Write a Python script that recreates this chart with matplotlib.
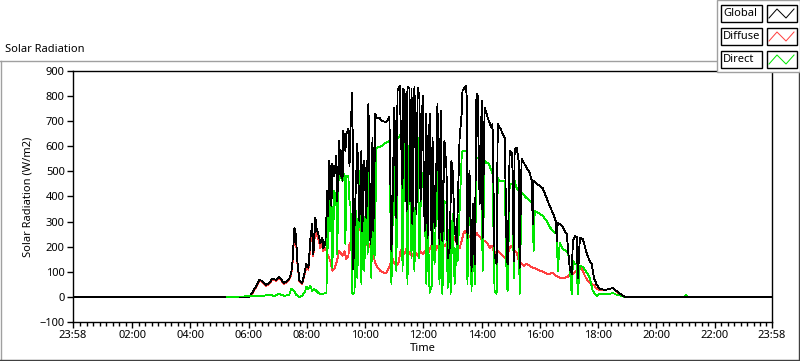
import matplotlib
matplotlib.use('Agg')
import matplotlib.pyplot as plt
import numpy as np
from matplotlib.lines import Line2D
from matplotlib.patches import Rectangle

plt.rcParams['font.family'] = ['Noto Sans', 'DejaVu Sans']

# ---------------- data (hours of day, W/m2) ----------------
global_t = [-0.033, 5.26, 6.02, 6.12, 6.22, 6.36, 6.46, 6.60, 6.71, 6.81, 6.95, 7.05, 7.15, 7.22, 7.32,
            7.39, 7.46, 7.50, 7.57, 7.60, 7.63, 7.67, 7.74, 7.84, 7.91, 7.98, 8.05, 8.12, 8.18, 8.22,
            8.29, 8.32, 8.39, 8.46, 8.53, 8.56, 8.63, 8.67, 8.70, 8.73, 8.77, 8.84, 8.87, 8.94, 9.01,
            9.04, 9.11, 9.15, 9.18, 9.22, 9.25, 9.32, 9.35, 9.42, 9.46, 9.49, 9.56, 9.59, 9.66, 9.73,
            9.80, 9.87, 9.90, 9.97, 10.04, 10.11, 10.18, 10.25, 10.28, 10.35, 10.39, 10.49, 10.56, 10.70,
            10.76, 10.83, 10.90, 10.94, 11.00, 11.07, 11.11, 11.18, 11.28, 11.31, 11.35, 11.42, 11.45,
            11.52, 11.55, 11.59, 11.62, 11.69, 11.76, 11.80, 11.86, 11.90, 11.97, 12.04, 12.10, 12.14,
            12.21, 12.28, 12.31, 12.38, 12.45, 12.48, 12.55, 12.59, 12.65, 12.72, 12.79, 12.83, 12.90,
            12.96, 13.00, 13.07, 13.14, 13.17, 13.24, 13.31, 13.34, 13.45, 13.48, 13.51, 13.58, 13.65,
            13.69, 13.76, 13.82, 13.86, 13.93, 14.00, 14.03, 14.10, 14.17, 14.24, 14.34, 14.37, 14.44,
            14.51, 14.55, 14.65, 14.72, 14.79, 14.86, 14.89, 14.96, 15.03, 15.06, 15.10, 15.13, 15.20,
            15.27, 15.30, 15.37, 15.41, 15.54, 15.65, 15.72, 15.75, 15.78, 15.89, 15.99, 16.09, 16.23,
            16.33, 16.44, 16.54, 16.58, 16.61, 16.68, 16.78, 16.85, 16.92, 17.02, 17.09, 17.13, 17.20,
            17.26, 17.30, 17.37, 17.47, 17.61, 17.71, 17.78, 17.85, 17.95, 18.05, 18.23, 18.40, 18.50,
            18.57, 18.67, 18.81, 18.91, 23.967]
global_v = [0, 0, 0, 16, 36, 68, 64, 48, 56, 72, 68, 80, 64, 56, 64,
            72, 96, 135, 275, 263, 223, 143, 64, 56, 92, 131, 116, 235, 291, 171,
            315, 275, 251, 215, 235, 195, 211, 323, 422, 323, 542, 363, 530, 482, 562,
            382, 622, 482, 582, 462, 661, 582, 649, 669, 522, 661, 813, 112, 382, 610,
            303, 582, 263, 542, 315, 769, 211, 633, 263, 729, 713, 713, 701, 697,
            701, 717, 183, 382, 753, 315, 821, 841, 434, 829, 821, 343, 837,
            829, 382, 829, 291, 837, 331, 833, 801, 382, 801, 263, 729, 235,
            729, 211, 633, 275, 554, 769, 211, 741, 223, 622, 514, 155, 195,
            542, 502, 275, 211, 331, 633, 729, 821, 841, 809, 235, 502, 104,
            371, 131, 809, 801, 371, 781, 235, 753, 729, 701, 673, 689, 171,
            131, 689, 669, 649, 633, 155, 131, 582, 574, 502, 143, 590, 594,
            542, 116, 550, 542, 514, 494, 462, 291, 462, 450, 442, 434, 394,
            363, 335, 303, 223, 295, 291, 279, 263, 251, 116, 92, 223, 243,
            239, 76, 235, 231, 171, 143, 131, 76, 48, 32, 28, 32, 36,
            28, 20, 8, 0, 0]

diffuse_t = [5.26, 6.02, 6.12, 6.22, 6.36, 6.46, 6.60, 6.71, 6.81, 6.95, 7.05, 7.15, 7.22, 7.32, 7.39,
             7.46, 7.50, 7.57, 7.60, 7.63, 7.67, 7.74, 7.84, 7.91, 7.98, 8.05, 8.12, 8.18, 8.22, 8.29,
             8.32, 8.39, 8.46, 8.53, 8.56, 8.63, 8.67, 8.73, 8.80, 8.87, 8.94, 9.01, 9.11, 9.22, 9.29,
             9.35, 9.42, 9.46, 9.56, 9.63, 9.70, 9.73, 9.80, 9.87, 9.94, 10.01, 10.08, 10.14, 10.21,
             10.28, 10.35, 10.42, 10.52, 10.63, 10.73, 10.80, 10.87, 10.94, 11.00, 11.07, 11.14, 11.21,
             11.28, 11.35, 11.42, 11.52, 11.62, 11.69, 11.80, 11.86, 11.97, 12.07, 12.14, 12.21, 12.31,
             12.41, 12.48, 12.59, 12.65, 12.76, 12.83, 12.90, 12.96, 13.03, 13.10, 13.17, 13.24, 13.31,
             13.38, 13.45, 13.51, 13.58, 13.69, 13.76, 13.82, 13.89, 13.96, 14.03, 14.10, 14.20, 14.27,
             14.34, 14.41, 14.48, 14.55, 14.62, 14.72, 14.82, 14.93, 14.99, 15.06, 15.13, 15.20, 15.27,
             15.34, 15.44, 15.54, 15.65, 15.75, 15.89, 15.99, 16.13, 16.23, 16.33, 16.44, 16.54, 16.68,
             16.85, 16.95, 17.02, 17.13, 17.20, 17.26, 17.37, 17.44, 17.54, 17.64, 17.75, 17.85, 17.95,
             18.05, 18.23, 18.40, 18.50, 18.60, 18.74, 18.91]
diffuse_v = [0, 0, 12, 32, 64, 60, 44, 52, 68, 64, 76, 60, 52, 60, 68,
             88, 127, 263, 251, 211, 135, 60, 52, 84, 120, 108, 215, 271, 163, 283,
             251, 231, 195, 211, 183, 195, 183, 163, 143, 104, 112, 135, 183, 163, 183,
             151, 163, 211, 223, 183, 243, 263, 271, 263, 235, 243, 203, 211, 183,
             163, 135, 116, 104, 96, 96, 112, 135, 151, 135, 124, 135, 183,
             195, 171, 195, 175, 163, 183, 163, 183, 171, 183, 163, 191, 211,
             183, 203, 191, 211, 203, 223, 211, 235, 243, 223, 211, 195, 223,
             255, 263, 235, 243, 223, 235, 255, 243, 235, 223, 223, 211, 195,
             203, 183, 175, 183, 175, 163, 155, 183, 203, 195, 183, 175, 143,
             135, 124, 131, 124, 116, 112, 104, 100, 92, 92, 96, 84, 76,
             76, 80, 92, 92, 100, 104, 116, 112, 84, 64, 52, 48, 32,
             28, 28, 32, 36, 24, 12, 0]

direct_t = [5.26, 6.46, 6.71, 6.88, 7.05, 7.22, 7.39, 7.46, 7.57, 7.63, 7.74, 7.84, 7.94, 7.98, 8.05,
            8.12, 8.18, 8.25, 8.36, 8.43, 8.53, 8.67, 8.70, 8.73, 8.77, 8.80, 8.84, 8.87, 8.94, 9.01,
            9.04, 9.08, 9.15, 9.22, 9.29, 9.32, 9.35, 9.42, 9.46, 9.49, 9.56, 9.63, 9.70, 9.73, 9.80,
            9.87, 9.90, 9.97, 10.04, 10.08, 10.14, 10.21, 10.25, 10.32, 10.39, 10.49, 10.59, 10.70,
            10.83, 10.90, 10.97, 11.00, 11.07, 11.11, 11.18, 11.24, 11.28, 11.35, 11.42, 11.45, 11.52,
            11.59, 11.62, 11.69, 11.76, 11.80, 11.86, 11.93, 12.04, 12.10, 12.14, 12.21, 12.28, 12.31,
            12.38, 12.48, 12.55, 12.62, 12.65, 12.72, 12.79, 12.83, 12.90, 12.93, 13.00, 13.07, 13.14,
            13.17, 13.24, 13.31, 13.34, 13.48, 13.51, 13.58, 13.65, 13.69, 13.76, 13.82, 13.93, 14.00,
            14.03, 14.10, 14.24, 14.34, 14.37, 14.44, 14.51, 14.55, 14.62, 14.79, 14.86, 14.89, 14.96,
            15.06, 15.10, 15.13, 15.20, 15.27, 15.30, 15.37, 15.54, 15.65, 15.75, 15.78, 15.82, 15.99,
            16.09, 16.23, 16.33, 16.44, 16.58, 16.61, 16.68, 16.78, 16.92, 16.99, 17.09, 17.13, 17.20,
            17.26, 17.30, 17.37, 17.47, 17.61, 17.71, 17.81, 17.95, 18.05, 18.23, 18.40, 18.50, 18.64,
            18.81, 18.91, 18.92, 20.95, 21.01, 21.06]
direct_v = [0, 4, 8, 4, 12, 4, 8, 32, 24, 8, 0, 4, 24, 40, 32,
            44, 24, 32, 20, 12, 12, 16, 331, 195, 434, 263, 410, 116, 422, 371,
            171, 462, 482, 462, 490, 211, 482, 482, 382, 371, 12, 16, 343, 76, 502,
            52, 371, 104, 514, 171, 502, 76, 371, 155, 594, 598, 602, 614,
            622, 52, 462, 570, 104, 633, 641, 649, 104, 622, 542, 52, 622,
            155, 582, 104, 633, 633, 155, 502, 394, 52, 331, 16, 44, 394,
            131, 542, 52, 474, 12, 382, 371, 36, 303, 12, 331, 52, 211,
            143, 343, 554, 582, 582, 52, 502, 24, 371, 52, 554, 554, 502,
            104, 542, 530, 502, 490, 24, 12, 474, 462, 462, 52, 24, 450,
            450, 76, 462, 434, 422, 12, 414, 394, 382, 371, 183, 343, 331,
            323, 303, 279, 263, 251, 104, 215, 191, 183, 163, 12, 143, 131,
            131, 12, 124, 120, 96, 76, 24, 4, 12, 12, 12, 16, 8,
            4, 0, np.nan, 0, 8, 0]

tick_hours = [-2 / 60, 2, 4, 6, 8, 10, 12, 14, 16, 18, 20, 22, 24 - 2 / 60]
tick_labels = ['23:58', '02:00', '04:00', '06:00', '08:00', '10:00', '12:00',
               '14:00', '16:00', '18:00', '20:00', '22:00', '23:58']
y_ticks = [-100, 0, 100, 200, 300, 400, 500, 600, 700, 800, 900]

C_GLOBAL = '#000000'
C_DIFFUSE = '#ff4040'
C_DIRECT = '#00e600'
LW = 0.6

W, H = 800, 361
fig = plt.figure(figsize=(W / 100, H / 100), dpi=100)
fig.patch.set_facecolor('white')

def fx(px):
    return px / W

def fy(py):
    return 1 - py / H

ax = fig.add_axes([fx(73), fy(322), (772 - 73) / W, (322 - 71) / H])
ax.plot(diffuse_t, diffuse_v, color=C_DIFFUSE, lw=LW, antialiased=False, zorder=2)
ax.plot(direct_t, direct_v, color=C_DIRECT, lw=LW, antialiased=False, zorder=3)
ax.plot(global_t, global_v, color=C_GLOBAL, lw=LW, antialiased=False, zorder=4)
# early-morning part of the direct series shows above the global line
early = [i for i, t in enumerate(direct_t) if t <= 6.5]
ax.plot([direct_t[i] for i in early], [direct_v[i] for i in early], color=C_DIRECT, lw=LW,
        antialiased=False, zorder=5)

ax.set_xlim(-2 / 60, 24 - 2 / 60)
ax.set_ylim(-100, 900)
ax.set_xticks(tick_hours)
ax.set_xticklabels(tick_labels)
minor = [h for h in np.arange(0, 24, 2 / 9) if min(abs(h - t) for t in tick_hours) > 0.05]
ax.set_xticks(minor, minor=True)
ax.set_yticks(y_ticks)
ax.tick_params(axis='both', which='major', direction='out', length=4, width=1, labelsize=8, pad=2,
               colors='black')
ax.tick_params(axis='x', which='minor', direction='out', length=3, width=1)
for s in ax.spines.values():
    s.set_color('black')
    s.set_linewidth(1)
ax.set_ylabel('Solar Radiation (W/m2)', fontsize=8, labelpad=4)
ax.set_xlabel('Time', fontsize=8, labelpad=1)

# title and outer frame
fig.text(fx(5), fy(50), 'Solar Radiation', fontsize=8, ha='left', va='center')
fig.add_artist(Line2D([fx(0), fx(718)], [fy(61), fy(61)], color='#a0a0a0', lw=1))
fig.add_artist(Line2D([fx(0.5), fx(0.5)], [fy(61), fy(361)], color='#a0a0a0', lw=1))
fig.add_artist(Line2D([fx(0), fx(799)], [fy(360), fy(360)], color='#404040', lw=1))
fig.add_artist(Line2D([fx(798.5), fx(798.5)], [fy(72), fy(361)], color='#404040', lw=1))

# legend
fig.add_artist(Rectangle((fx(717), fy(72)), fx(83), 72 / H, facecolor='white',
                         edgecolor='#a0a0a0', lw=1, zorder=10))
entries = [('Global', C_GLOBAL), ('Diffuse', C_DIFFUSE), ('Direct', C_DIRECT)]
for i, (name, col) in enumerate(entries):
    top = 5 + 23 * i
    fig.add_artist(Rectangle((fx(721), fy(top + 17)), fx(41), 17 / H, facecolor='white',
                             edgecolor='black', lw=1, zorder=11))
    fig.text(fx(723), fy(top + 8.5), name, fontsize=8, ha='left', va='center', zorder=12)
    fig.add_artist(Rectangle((fx(767), fy(top + 17)), fx(30), 17 / H, facecolor='white',
                             edgecolor='black', lw=1, zorder=11))
    fig.add_artist(Line2D([fx(769), fx(777), fx(786), fx(794)],
                          [fy(top + 13), fy(top + 4), fy(top + 13), fy(top + 4)],
                          color=col, lw=0.72, zorder=12))

fig.savefig('out.png', dpi=100, facecolor='white')
